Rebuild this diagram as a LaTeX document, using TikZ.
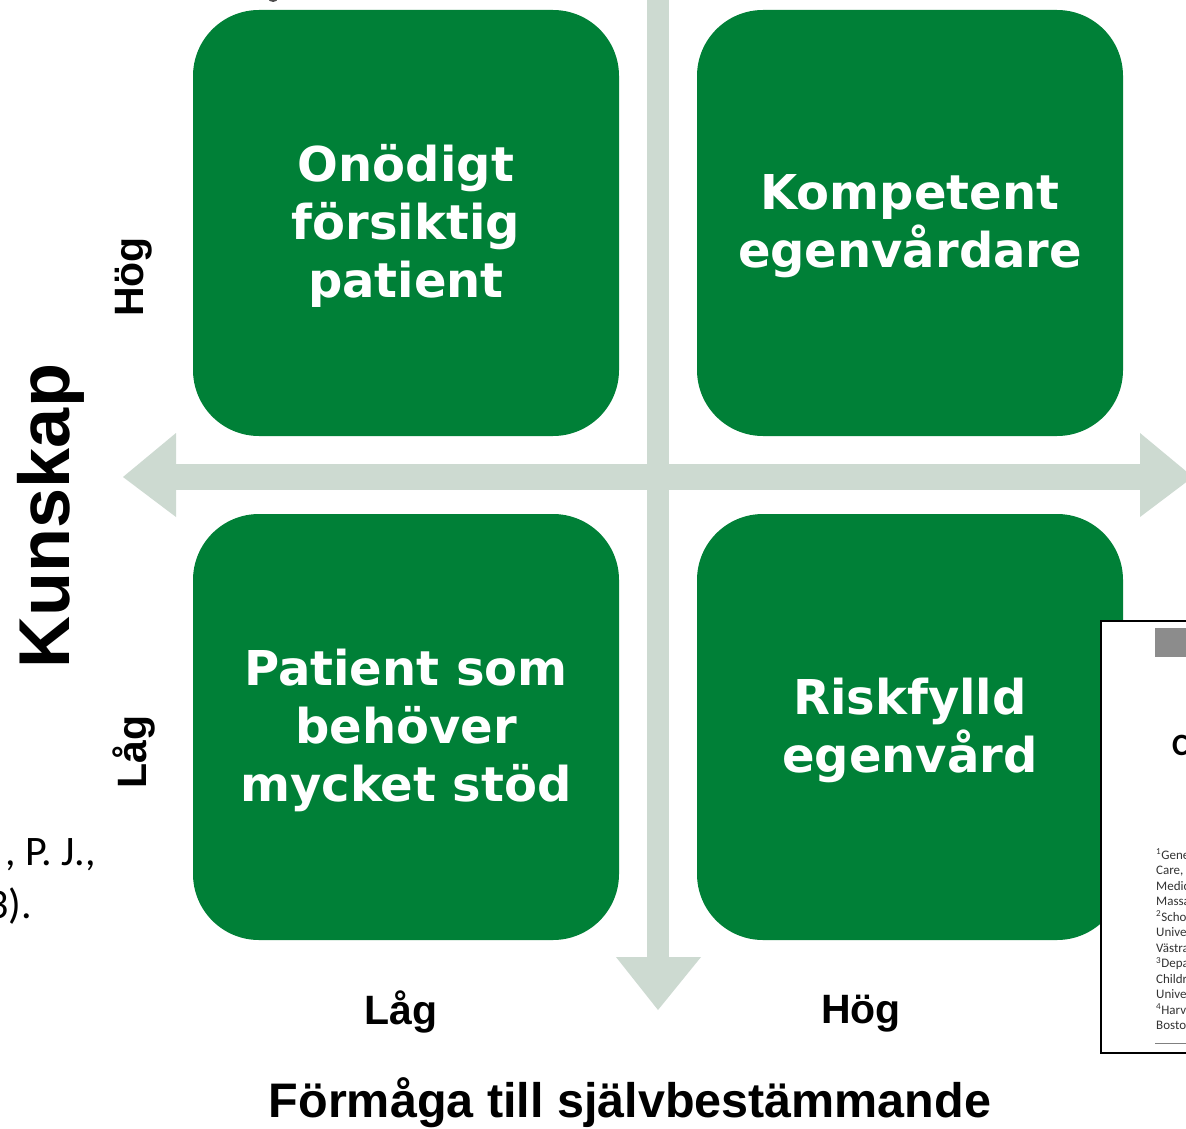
\documentclass[tikz,border=0pt]{standalone}
\usepackage{fontspec}
\setmainfont{Liberation Sans}
\newfontfamily\boxfont{DejaVu Sans}
\newfontfamily\smallfont{Carlito}
\definecolor{qgreen}{HTML}{008037}
\definecolor{qarrow}{HTML}{CDDAD1}
\begin{document}
\begin{tikzpicture}[x=1pt,y=-1pt,
  quad/.style={fill=qgreen, rounded corners=66pt, minimum width=426pt, minimum height=426pt,
    text=white, align=center, inner sep=0pt,
    font=\boxfont\bfseries\fontsize{48}{58}\selectfont},
  axislbl/.style={font=\bfseries\fontsize{41}{48}\selectfont, inner sep=0pt},
  arrowfill/.style={fill=qarrow, draw=none},
  cutlbl/.style={font=\smallfont\fontsize{42}{50}\selectfont, inner sep=0pt, anchor=base west},
  docline/.style={font=\smallfont\fontsize{13}{15}\selectfont, inner sep=0pt, anchor=base west, text=black!80}
]
\useasboundingbox (0,0) rectangle (1186,1129);
\fill[white] (0,0) rectangle (1186,1129);

% tiny fragment at top
\fill[black!70] (273,-2) ellipse (5pt and 4pt);

% axes (arrows)
\coordinate (hl) at (123,477);
\coordinate (hr) at (1193,477);
\coordinate (vt) at (658,-10);
\coordinate (vb) at (658,1010);
\fill[arrowfill] (176,464) rectangle (1140,490);
\fill[arrowfill] (176,433) -- (hl) -- (176,517) -- cycle;
\fill[arrowfill] (1140,433) -- (hr) -- (1140,517) -- cycle;
\fill[arrowfill] (647,-10) rectangle (669,957);
\fill[arrowfill] (616,957) -- (vb) -- (701,957) -- cycle;

% quadrants
\node[quad] (tl) at (406,223) {};
\node[quad] (tr) at (910,223) {};
\node[quad] (bl) at (406,727) {};
\node[quad] (br) at (910,727) {};
\node[quad, fill=none, minimum size=0pt] (tlt) at (406,226) {Onödigt\\försiktig\\patient};
\node[quad, fill=none, minimum size=0pt] (trt) at (910,226) {Kompetent\\egenvårdare};
\node[quad, fill=none, minimum size=0pt] (blt) at (406,730) {Patient som\\behöver\\mycket stöd};
\node[quad, fill=none, minimum size=0pt] (brt) at (910,730) {Riskfylld\\egenvård};

% axis labels
\node[axislbl, rotate=90] (yhog) at (134,277) {Hög};
\node[axislbl, rotate=90] (ylag) at (134,752) {Låg};
\node[font=\bfseries\fontsize{72}{80}\selectfont, inner sep=0pt, rotate=90] (ytitle) at (51,516) {Kunskap};
\node[axislbl] (xlag) at (401,1012) {Låg};
\node[axislbl] (xhog) at (861,1014) {Hög};
\node[font=\bfseries\fontsize{48.5}{56}\selectfont, inner sep=0pt] (xtitle) at (630,1103) {Förmåga till självbestämmande};

% cut-off reference text at left
\node[cutlbl] (ref1) at (5,865) {, P. J.,};
\node[cutlbl] (ref2) at (-13,918) {3).};

% cut-off article page at right
\filldraw[line width=2pt, draw=black, fill=white] (1101,621) rectangle (1200,1053);
\fill[black!45] (1155,628) rectangle (1200,657);
\node[font=\smallfont\bfseries\fontsize{31}{34}\selectfont, inner sep=0pt, anchor=base west] (doct) at (1172,755) {C};
\node[docline] (d1) at (1156,859) {\textsuperscript{1}Gene};
\node[docline] (d2) at (1156,874.5) {Care, I};
\node[docline] (d3) at (1156,890) {Medic};
\node[docline] (d4) at (1156,905.5) {Massa};
\node[docline] (d5) at (1156,921) {\textsuperscript{2}Schoo};
\node[docline] (d6) at (1156,936.5) {Univer};
\node[docline] (d7) at (1156,952) {Västra};
\node[docline] (d8) at (1156,967.5) {\textsuperscript{3}Depa};
\node[docline] (d9) at (1156,983) {Childr};
\node[docline] (d10) at (1156,998.5) {Univer};
\node[docline] (d11) at (1156,1014) {\textsuperscript{4}Harva};
\node[docline] (d12) at (1156,1029.5) {Bostor};
\draw[black!50, line width=1pt] (1155,1043) -- (1200,1043);
\end{tikzpicture}
\end{document}
